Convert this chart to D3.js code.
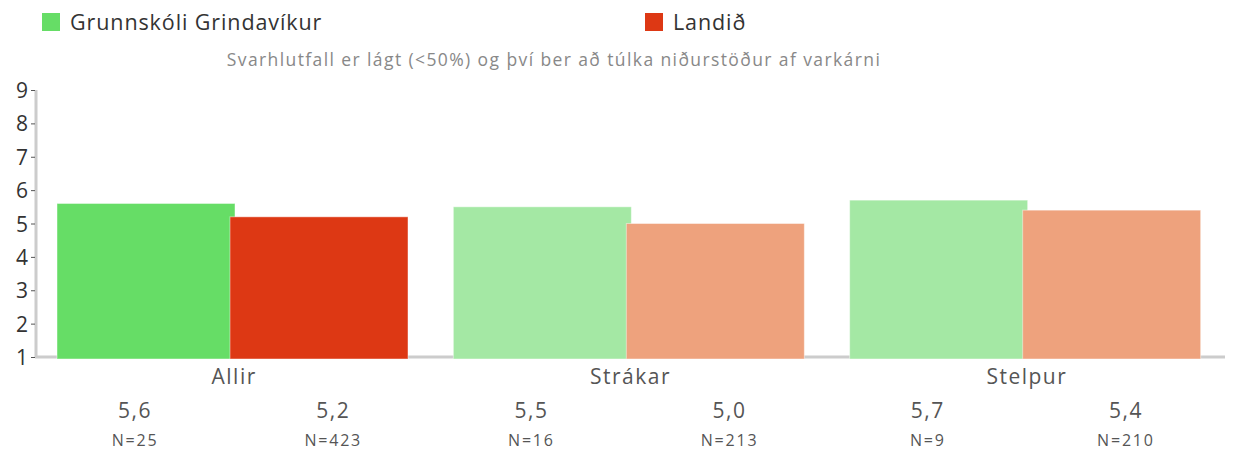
<!DOCTYPE html>
<html>
<head>
<meta charset="utf-8">
<script src="https://cdn.jsdelivr.net/npm/d3@7"></script>
<style>
body { margin: 0; background: #fff; }
svg { font-family: "Open Sans", "Noto Sans", sans-serif; }
</style>
</head>
<body>
<svg width="1234" height="452"></svg>
<script>
var categories = ["Allir", "Strákar", "Stelpur"]
var seriesNames = ["Grunnskóli Grindavíkur", "Landið"]
var schoolValues = [5.6, 5.5, 5.7]
var nationValues = [5.2, 5.0, 5.4]
var schoolN = [25, 16, 9]
var nationN = [423, 213, 210]
var yTicks = [1, 2, 3, 4, 5, 6, 7, 8, 9]
var subtitle = "Svarhlutfall er lágt (<50%) og því ber að túlka niðurstöður af varkárni"

// first group full colour, others faded
var colors = [["#66dd66", "#dd3814"], ["#a4e8a4", "#eea27d"], ["#a4e8a4", "#eea27d"]]

var svg = d3.select("svg")

var x0 = d3.scaleBand().domain(categories).range([36, 1225])
var x1 = d3.scaleBand().domain([0, 1]).range([0, x0.bandwidth()])
var y = d3.scaleLinear().domain([1, 9]).range([357, 90])

var data = categories.map(function(c, i) {
	return [
		{cat: c, s: 0, v: schoolValues[i], n: schoolN[i], i: i},
		{cat: c, s: 1, v: nationValues[i], n: nationN[i], i: i}
	]
})

// axes lines
svg.append("line").attr("x1", 36).attr("x2", 36).attr("y1", y(9)).attr("y2", y(1) + 1)
	.style("stroke", "#cccccc").style("stroke-width", 3)
svg.append("line").attr("x1", 35).attr("x2", 1225).attr("y1", y(1)).attr("y2", y(1))
	.style("stroke", "#cccccc").style("stroke-width", 3)

// bars
var barW = 178, pad = 21
var g = svg.append("g")
g.selectAll("g.grp").data(data).enter().append("g")
	.attr("class", "grp")
	.attr("transform", function(d) { return "translate(" + x0(d[0].cat) + ",0)" })
	.selectAll("rect").data(function(d) { return d }).enter().append("rect")
	.attr("x", function(d) { return d.s == 0 ? pad : pad + barW - 5 })
	.attr("width", barW)
	.attr("y", function(d) { return y(d.v) })
	.attr("height", function(d) { return y(1) - y(d.v) + 2 })
	.style("fill", function(d) { return colors[d.i][d.s] })
	.style("stroke", "rgba(255,255,255,0.45)")
	.style("stroke-width", 1)

var yAxis = svg.append("g").attr("transform", "translate(35,0)")
	.call(d3.axisLeft(y).tickValues(yTicks).tickSize(4).tickPadding(3))
yAxis.select(".domain").remove()
yAxis.selectAll("line").style("stroke", "#555")
yAxis.selectAll("text").style("font-size", "21px").style("fill", "#333")
	.style("font-family", "'Open Sans', sans-serif").attr("dy", "0.36em")

// category labels
svg.selectAll("text.cat").data(categories).enter().append("text")
	.attr("class", "cat")
	.attr("x", function(d) { return x0(d) + x0.bandwidth() / 2 })
	.attr("y", 384)
	.attr("text-anchor", "middle")
	.style("font-size", "21px").style("fill", "#555").style("letter-spacing", "1.5px")
	.text(function(d) { return d })

// value and N labels
var flat = [].concat.apply([], data)
svg.selectAll("text.val").data(flat).enter().append("text")
	.attr("class", "val")
	.attr("x", function(d) { return x0(d.cat) + x1(d.s) + x1.bandwidth() / 2 })
	.attr("y", 418)
	.attr("text-anchor", "middle")
	.style("font-size", "21px").style("fill", "#555").style("letter-spacing", "1.5px")
	.text(function(d) { return d3.format(".1f")(d.v).replace(".", ",") })
svg.selectAll("text.n").data(flat).enter().append("text")
	.attr("class", "n")
	.attr("x", function(d) { return x0(d.cat) + x1(d.s) + x1.bandwidth() / 2 })
	.attr("y", 446)
	.attr("text-anchor", "middle")
	.style("font-size", "16px").style("fill", "#555").style("letter-spacing", "1.8px")
	.text(function(d) { return "N=" + d.n })

// legend
var legX = [42, 645]
var leg = svg.selectAll("g.leg").data(seriesNames).enter().append("g")
	.attr("class", "leg")
	.attr("transform", function(d, i) { return "translate(" + legX[i] + ",13)" })
leg.append("rect").attr("width", 18).attr("height", 18)
	.style("fill", function(d, i) { return colors[0][i] })
leg.append("text").attr("x", 28).attr("y", 17)
	.style("font-size", "21.5px").style("fill", "#333").style("letter-spacing", "0.9px")
	.text(function(d) { return d })

svg.append("text")
	.attr("x", 554).attr("y", 66)
	.attr("text-anchor", "middle")
	.style("font-size", "17.5px").style("fill", "#888").style("letter-spacing", "1.4px")
	.text(subtitle)
</script>
</body>
</html>
